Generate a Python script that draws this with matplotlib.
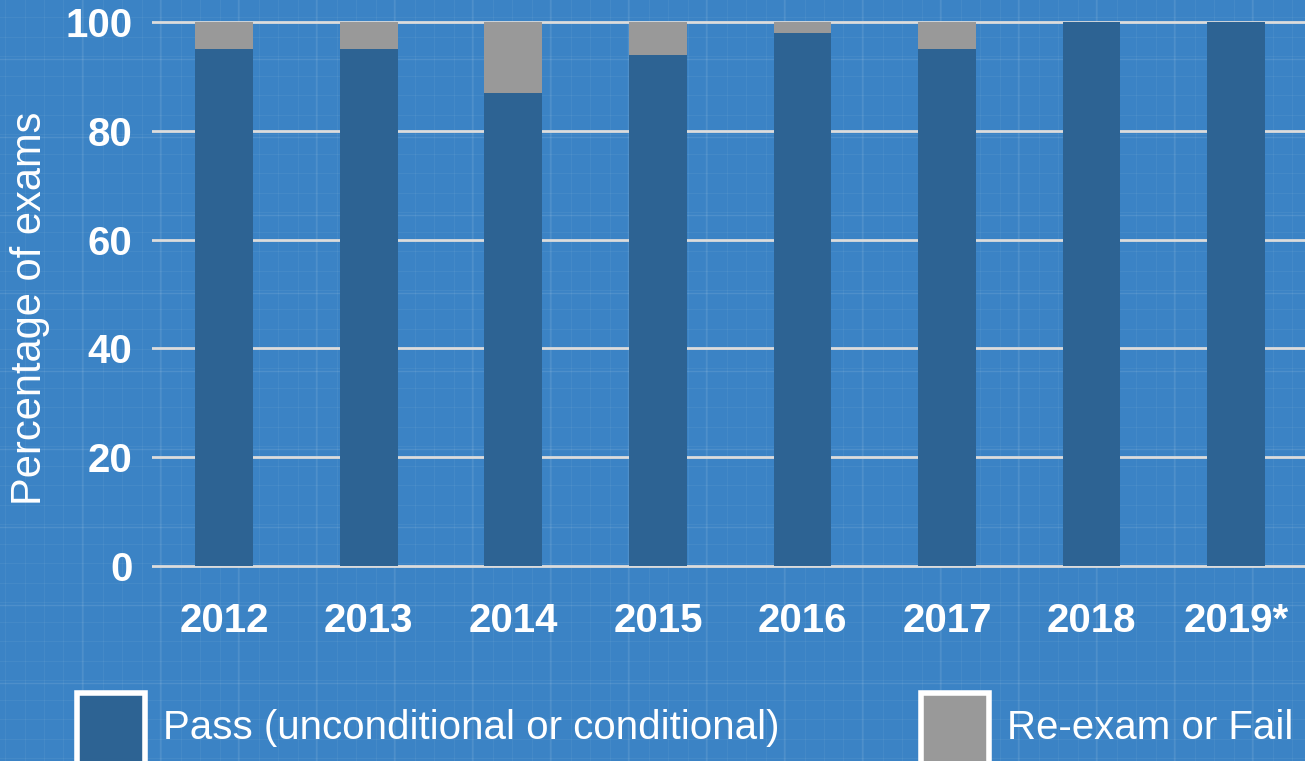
import numpy as np
import matplotlib.pyplot as plt
from matplotlib.patches import Rectangle

years = ['2012', '2013', '2014', '2015', '2016', '2017', '2018', '2019*']
passed = [95, 95, 87, 94, 98, 95, 100, 100]
failed = [5, 5, 13, 6, 2, 5, 0, 0]
legend_labels = ['Pass (unconditional or conditional)', 'Re-exam or Fail']

bg = '#3b83c5'
blue = '#2d6393'
grey = '#999999'

plt.rcParams['font.family'] = ['Liberation Sans', 'DejaVu Sans']

fig = plt.figure(figsize=(13.05, 7.61), dpi=100, facecolor=bg)

# faint blueprint grid behind everything
W, H = 1305, 761
for x in np.arange(5, W, 19.5):
    fig.add_artist(plt.Line2D([x / W, x / W], [0, 1], color='white', alpha=0.05, lw=0.8, zorder=-5))
for y in np.arange(3, H, 19.5):
    fig.add_artist(plt.Line2D([0, 1], [y / H, y / H], color='white', alpha=0.05, lw=0.8, zorder=-5))
for x in np.arange(82, W, 78):
    fig.add_artist(plt.Line2D([x / W, x / W], [0, 1], color='white', alpha=0.10, lw=1, zorder=-5))
for y in np.arange(59, H, 78):
    fig.add_artist(plt.Line2D([0, 1], [1 - y / H, 1 - y / H], color='white', alpha=0.10, lw=1, zorder=-5))

ax = fig.add_axes([0.1165, 0.2491, 0.886, 0.7363])
ax.patch.set_alpha(0)
x = np.arange(len(years))
ax.bar(x, passed, width=0.4, color=blue, zorder=3)
ax.bar(x, failed, width=0.4, bottom=passed, color=grey, zorder=3)

ax.set_xlim(-0.5, 7.5)
ax.set_ylim(-1, 102)
ax.set_yticks([0, 20, 40, 60, 80, 100])
ax.yaxis.grid(True, color='#dcdcdc', lw=2, zorder=1)
ax.tick_params(length=0, colors='white', labelsize=29)
ax.tick_params(axis='y', pad=14)
ax.tick_params(axis='x', pad=22)
ax.set_xticks(x)
ax.set_xticklabels(years)
for lbl in ax.get_xticklabels() + ax.get_yticklabels():
    lbl.set_fontweight('bold')
for s in ax.spines.values():
    s.set_visible(False)
ax.set_ylabel('Percentage of exams', color='white', fontsize=30)
ax.yaxis.set_label_coords(-0.088, 0.47)

# legend boxes, drawn in figure pixel positions
box_x = [77, 921]
for bx, col, lab in zip(box_x, [blue, grey], legend_labels):
    fig.add_artist(Rectangle((bx / W, -0.02), 68 / W, 83 / H, transform=fig.transFigure,
                             facecolor=col, edgecolor='white', lw=4, clip_on=False))
    fig.text((bx + 86) / W, 1 - 728 / H, lab, color='white', fontsize=29, va='center', ha='left')

fig.savefig('out.png', dpi=100, facecolor=bg)
